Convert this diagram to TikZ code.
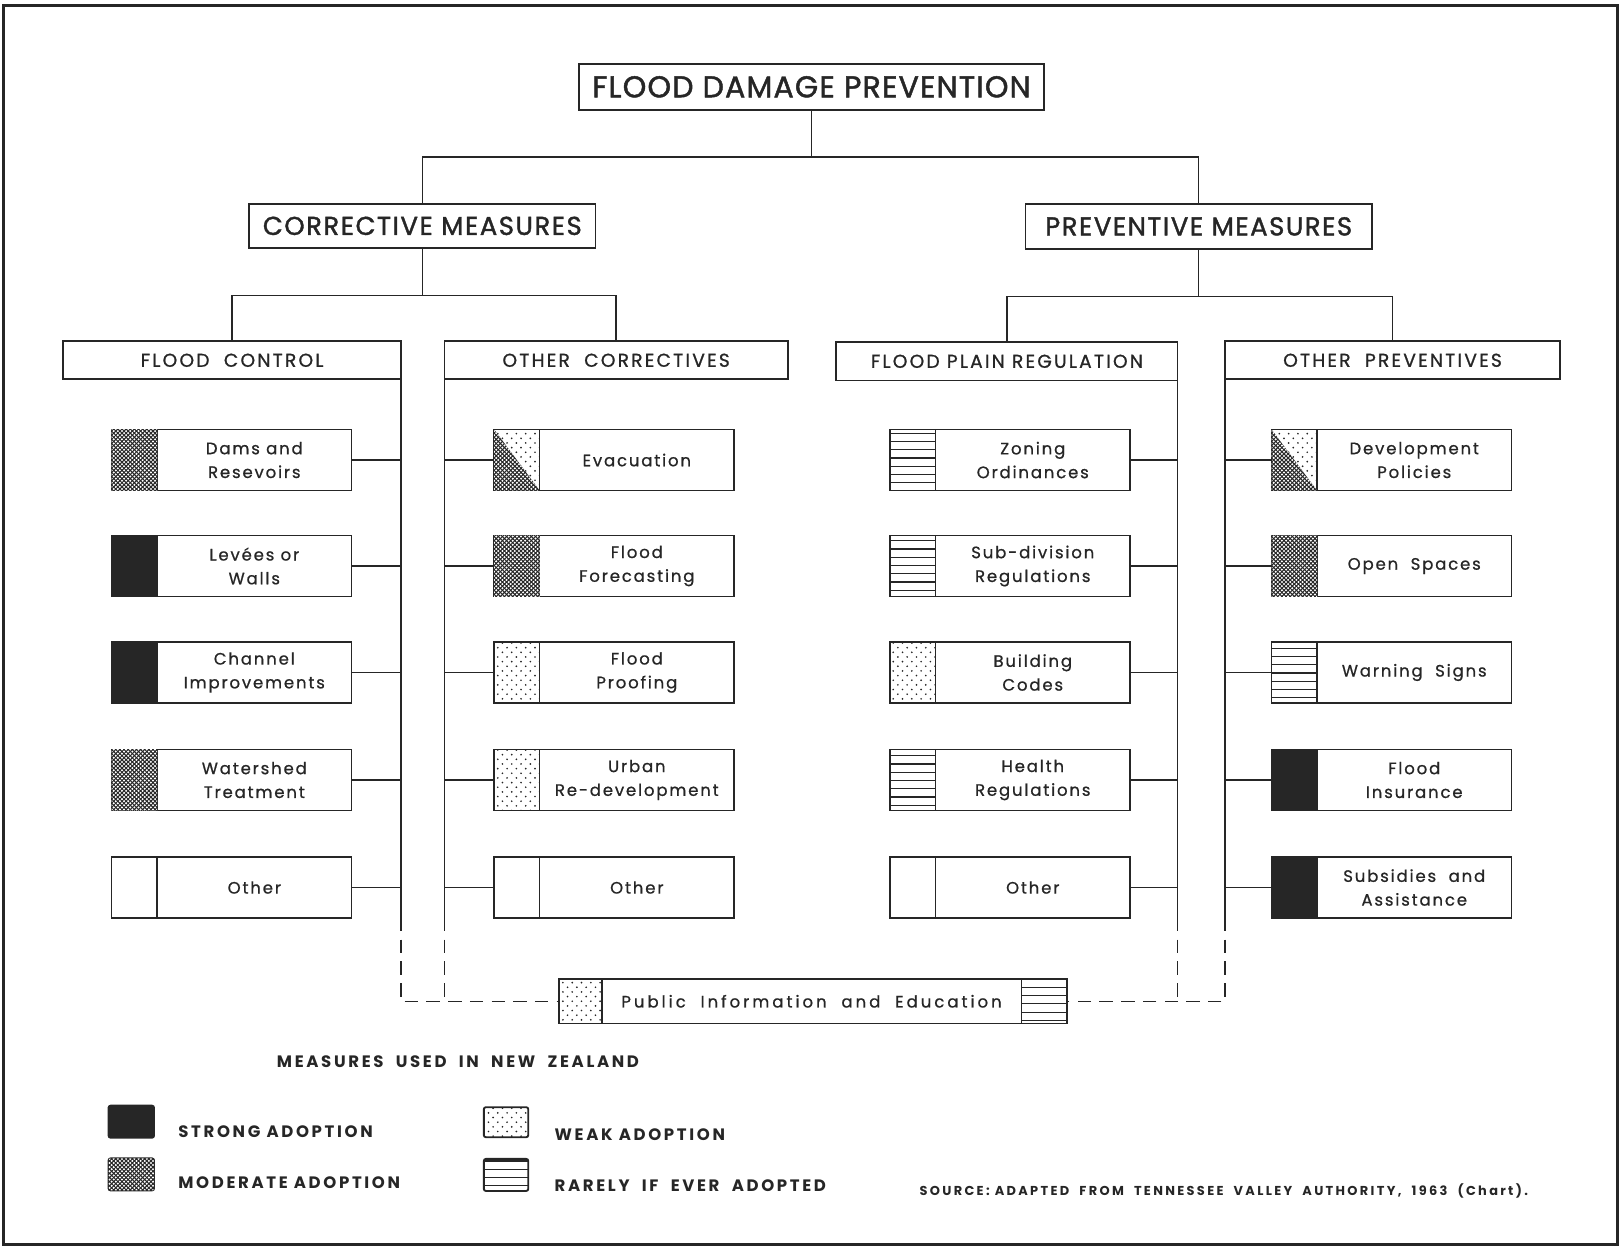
\documentclass[tikz,border=0pt]{standalone}
\usepackage{fontspec}
\setmainfont{Poppins}
\usepackage{tikz}
\usetikzlibrary{positioning,patterns}
\definecolor{ink}{gray}{0.15}
\pgfdeclarepatternformonly{finedots}{\pgfqpoint{-1pt}{-1pt}}{\pgfqpoint{3pt}{3pt}}{\pgfqpoint{4pt}{4pt}}{%
  \pgfpathcircle{\pgfqpoint{0pt}{0pt}}{1.1pt}%
  \pgfpathcircle{\pgfqpoint{2pt}{2pt}}{1.1pt}%
  \pgfusepath{fill}}
\pgfdeclarepatternformonly{sparsedots}{\pgfqpoint{-1pt}{-1pt}}{\pgfqpoint{6pt}{6pt}}{\pgfqpoint{9pt}{9pt}}{%
  \pgfpathcircle{\pgfqpoint{0pt}{0pt}}{0.9pt}%
  \pgfpathcircle{\pgfqpoint{4.5pt}{4.5pt}}{0.9pt}%
  \pgfusepath{fill}}
\pgfdeclarepatternformonly{stripes}{\pgfqpoint{-1pt}{-1pt}}{\pgfqpoint{9pt}{9pt}}{\pgfqpoint{8pt}{8pt}}{%
  \pgfsetlinewidth{1.1pt}%
  \pgfpathmoveto{\pgfqpoint{-1pt}{4pt}}\pgfpathlineto{\pgfqpoint{9pt}{4pt}}%
  \pgfusepath{stroke}}
\tikzstyle{headbox} = [rectangle, draw=ink, line width=1.8pt, inner sep=0pt, outer sep=0pt, text=ink]
\tikzstyle{topfont} = [font=\fontsize{29}{30}\selectfont\addfontfeature{LetterSpace=4,FakeBold=1.5}]
\tikzstyle{midfont} = [font=\fontsize{25}{30}\selectfont\addfontfeature{LetterSpace=6,FakeBold=1.5}]
\tikzstyle{subfont} = [font=\fontsize{18}{20}\selectfont\addfontfeature{LetterSpace=12,FakeBold=1}]
\tikzstyle{itembox} = [rectangle, draw=ink, line width=1.6pt, minimum width=188pt, minimum height=59pt, inner sep=0pt, outer sep=0pt, align=center, text=ink, font=\fontsize{16}{23}\selectfont\addfontfeature{LetterSpace=11,FakeBold=0.8}]
\tikzstyle{cellbox} = [rectangle, draw=ink, line width=1.6pt, minimum width=44pt, minimum height=59pt, inner sep=0pt, outer sep=0pt]
\tikzstyle{swatch} = [rectangle, draw=ink, line width=1.8pt, rounded corners=2pt, minimum width=44pt, minimum height=31pt, inner sep=0pt]
\tikzstyle{legtext} = [anchor=west, text=ink, font=\fontsize{16}{18}\selectfont\bfseries\addfontfeature{LetterSpace=16}]
\tikzstyle{strong} = [fill=ink]
\tikzstyle{moderate} = [fill=ink, postaction={pattern=finedots, pattern color=white}]
\tikzstyle{weak} = [pattern=sparsedots, pattern color=ink]
\tikzstyle{rarely} = [pattern=stripes, pattern color=ink]
\tikzstyle{line} = [draw=ink, line width=1.3pt]
\tikzstyle{dline} = [draw=ink, line width=1.3pt, dash pattern=on 13pt off 8pt]

\begin{document}
\begin{tikzpicture}[x=1pt, y=-1pt]
        \useasboundingbox (0,0) rectangle (1568,1207);
        \draw [ink, line width=3pt] (3,5) rectangle (1565,1204);

        % Place nodes
        \node at (785, 84) [headbox, topfont, minimum width=450pt, minimum height=44pt] (fdp) {FLOOD DAMAGE PREVENTION};
        \node at (408.5, 218.5) [headbox, midfont, minimum width=335pt, minimum height=43pt] (corr) {CORRECTIVE MEASURES};
        \node at (1159.5, 219) [headbox, midfont, minimum width=335pt, minimum height=44pt] (prev) {PREVENTIVE MEASURES};
        \node at (224.5, 348.5) [headbox, subfont, minimum width=327pt, minimum height=37pt] (fc) {FLOOD\ \ CONTROL};
        \node at (596, 348.5) [headbox, subfont, minimum width=332pt, minimum height=37pt] (oc) {OTHER\ \ CORRECTIVES};
        \node at (974, 349.5) [headbox, subfont, minimum width=330pt, minimum height=37pt] (fpr) {FLOOD PLAIN REGULATION};
        \node at (1347, 348.5) [headbox, subfont, minimum width=324pt, minimum height=37pt] (op) {OTHER\ \ PREVENTIVES};
        \coordinate (j0) at (785, 152);
        \coordinate (j1) at (408.5, 286);
        \coordinate (j2) at (1159.5, 287);

        % flood control
        \node at (246, 445) [itembox] (dams) {Dams and\\Resevoirs};
        \node [cellbox, moderate, left=0pt of dams] (damsc) {};
        \node at (246, 547.5) [itembox] (levees) {Levées or\\Walls};
        \node [cellbox, strong, left=0pt of levees] (leveesc) {};
        \node at (246, 650.5) [itembox] (channel) {Channel\\Improvements};
        \node [cellbox, strong, left=0pt of channel] (channelc) {};
        \node at (246, 754.5) [itembox] (watershed) {Watershed\\Treatment};
        \node [cellbox, moderate, left=0pt of watershed] (watershedc) {};
        \node at (246, 858.5) [itembox] (other1) {Other};
        \node [cellbox, left=0pt of other1] (other1c) {};

        % other correctives
        \node at (616, 445) [itembox] (evac) {Evacuation};
        \node [cellbox, weak, left=0pt of evac] (evacc) {};
        \fill [moderate] (evacc.north west) -- (evacc.south east) -- (evacc.south west) -- cycle;
        \node at (616, 547.5) [itembox] (forecast) {Flood\\Forecasting};
        \node [cellbox, moderate, left=0pt of forecast] (forecastc) {};
        \node at (616, 650.5) [itembox] (proofing) {Flood\\Proofing};
        \node [cellbox, weak, left=0pt of proofing] (proofingc) {};
        \node at (616, 754.5) [itembox] (urban) {Urban\\Re-development};
        \node [cellbox, weak, left=0pt of urban] (urbanc) {};
        \node at (616, 858.5) [itembox] (other2) {Other};
        \node [cellbox, left=0pt of other2] (other2c) {};

        % flood plain regulation
        \node at (999, 445) [itembox] (zoning) {Zoning\\Ordinances};
        \node [cellbox, rarely, left=0pt of zoning] (zoningc) {};
        \node at (999, 547.5) [itembox] (subdiv) {Sub-division\\Regulations};
        \node [cellbox, rarely, left=0pt of subdiv] (subdivc) {};
        \node at (999, 650.5) [itembox] (building) {Building\\Codes};
        \node [cellbox, weak, left=0pt of building] (buildingc) {};
        \node at (999, 754.5) [itembox] (health) {Health\\Regulations};
        \node [cellbox, rarely, left=0pt of health] (healthc) {};
        \node at (999, 858.5) [itembox] (other3) {Other};
        \node [cellbox, left=0pt of other3] (other3c) {};

        % other preventives
        \node at (1368, 445) [itembox] (devpol) {Development\\Policies};
        \node [cellbox, weak, left=0pt of devpol] (devpolc) {};
        \fill [moderate] (devpolc.north west) -- (devpolc.south east) -- (devpolc.south west) -- cycle;
        \node at (1368, 547.5) [itembox] (open) {Open\ \ Spaces};
        \node [cellbox, moderate, left=0pt of open] (openc) {};
        \node at (1368, 650.5) [itembox] (warning) {Warning\ \ Signs};
        \node [cellbox, rarely, left=0pt of warning] (warningc) {};
        \node at (1368, 754.5) [itembox] (insure) {Flood\\Insurance};
        \node [cellbox, strong, left=0pt of insure] (insurec) {};
        \node at (1368, 858.5) [itembox] (subsid) {Subsidies\ \ and\\Assistance};
        \node [cellbox, strong, left=0pt of subsid] (subsidc) {};

        % public information
        \node at (785, 968.5) [itembox, minimum width=406pt, minimum height=43pt, font=\fontsize{16}{18}\selectfont\addfontfeature{LetterSpace=18,FakeBold=0.8}] (pie) {Public\ \ Information\ \ and\ \ Education};
        \node [cellbox, weak, minimum width=41pt, minimum height=43pt, left=0pt of pie] (piel) {};
        \node [cellbox, rarely, minimum width=44pt, minimum height=43pt, right=0pt of pie] (pier) {};

        % legend
        \node at (443, 1027) [legtext, anchor=center] (legtitle) {MEASURES\ \ USED\ \ IN\ \ NEW\ \ ZEALAND};
        \node at (127, 1085) [swatch, strong] (lstrong) {};
        \node at (169, 1095) [legtext] (tstrong) {STRONG ADOPTION};
        \node at (127, 1136) [swatch, moderate] (lmoderate) {};
        \node at (169, 1144) [legtext] (tmoderate) {MODERATE ADOPTION};
        \node at (489.5, 1085.5) [swatch, weak, minimum width=43pt, minimum height=29pt] (lweak) {};
        \node at (533, 1098) [legtext] (tweak) {WEAK ADOPTION};
        \node at (489.5, 1136.5) [swatch, rarely, minimum width=43pt] (lrarely) {};
        \node at (533, 1147) [legtext] (trarely) {RARELY\ \ IF\ \ EVER\ \ ADOPTED};
        \node at (886, 1152) [legtext, font=\fontsize{12.5}{14}\selectfont\bfseries\addfontfeature{LetterSpace=18}] (source) {SOURCE:\ ADAPTED\ \ FROM\ \ TENNESSEE\ \ VALLEY\ \ AUTHORITY,\ \ 1963\ \ (Chart).};

        % Draw edges
        \path [line] (fdp) -- (j0);
        \path [line] (j0) -| (corr);
        \path [line] (j0) -| (prev);
        \path [line] (corr) -- (j1);
        \path [line] (j1) -| (fc);
        \path [line] (j1) -| (oc);
        \path [line] (prev) -- (j2);
        \path [line] (j2) -| (fpr);
        \path [line] (j2) -| (op);

        \path [line] (fc.south east) -- (fc.south east |- other1.south);
        \path [line] (oc.south west) -- (oc.south west |- other2.south);
        \path [line] (fpr.south east) -- (fpr.south east |- other3.south);
        \path [line] (op.south west) -- (op.south west |- subsid.south);
        \path [dline] (fc.south east |- other1.south) |- (piel);
        \path [dline] (oc.south west |- other2.south) -- (oc.south west |- pie);
        \path [dline] (fpr.south east |- other3.south) -- (fpr.south east |- pie);
        \path [dline] (op.south west |- subsid.south) |- (pier);

        \path [line] (dams) -- (dams -| fc.south east);
        \path [line] (levees) -- (levees -| fc.south east);
        \path [line] (channel) -- (channel -| fc.south east);
        \path [line] (watershed) -- (watershed -| fc.south east);
        \path [line] (other1) -- (other1 -| fc.south east);
        \path [line] (evac -| oc.south west) -- (evacc);
        \path [line] (forecast -| oc.south west) -- (forecastc);
        \path [line] (proofing -| oc.south west) -- (proofingc);
        \path [line] (urban -| oc.south west) -- (urbanc);
        \path [line] (other2 -| oc.south west) -- (other2c);
        \path [line] (zoning) -- (zoning -| fpr.south east);
        \path [line] (subdiv) -- (subdiv -| fpr.south east);
        \path [line] (building) -- (building -| fpr.south east);
        \path [line] (health) -- (health -| fpr.south east);
        \path [line] (other3) -- (other3 -| fpr.south east);
        \path [line] (devpol -| op.south west) -- (devpolc);
        \path [line] (open -| op.south west) -- (openc);
        \path [line] (warning -| op.south west) -- (warningc);
        \path [line] (insure -| op.south west) -- (insurec);
        \path [line] (subsid -| op.south west) -- (subsidc);
    \end{tikzpicture}
\end{document}
